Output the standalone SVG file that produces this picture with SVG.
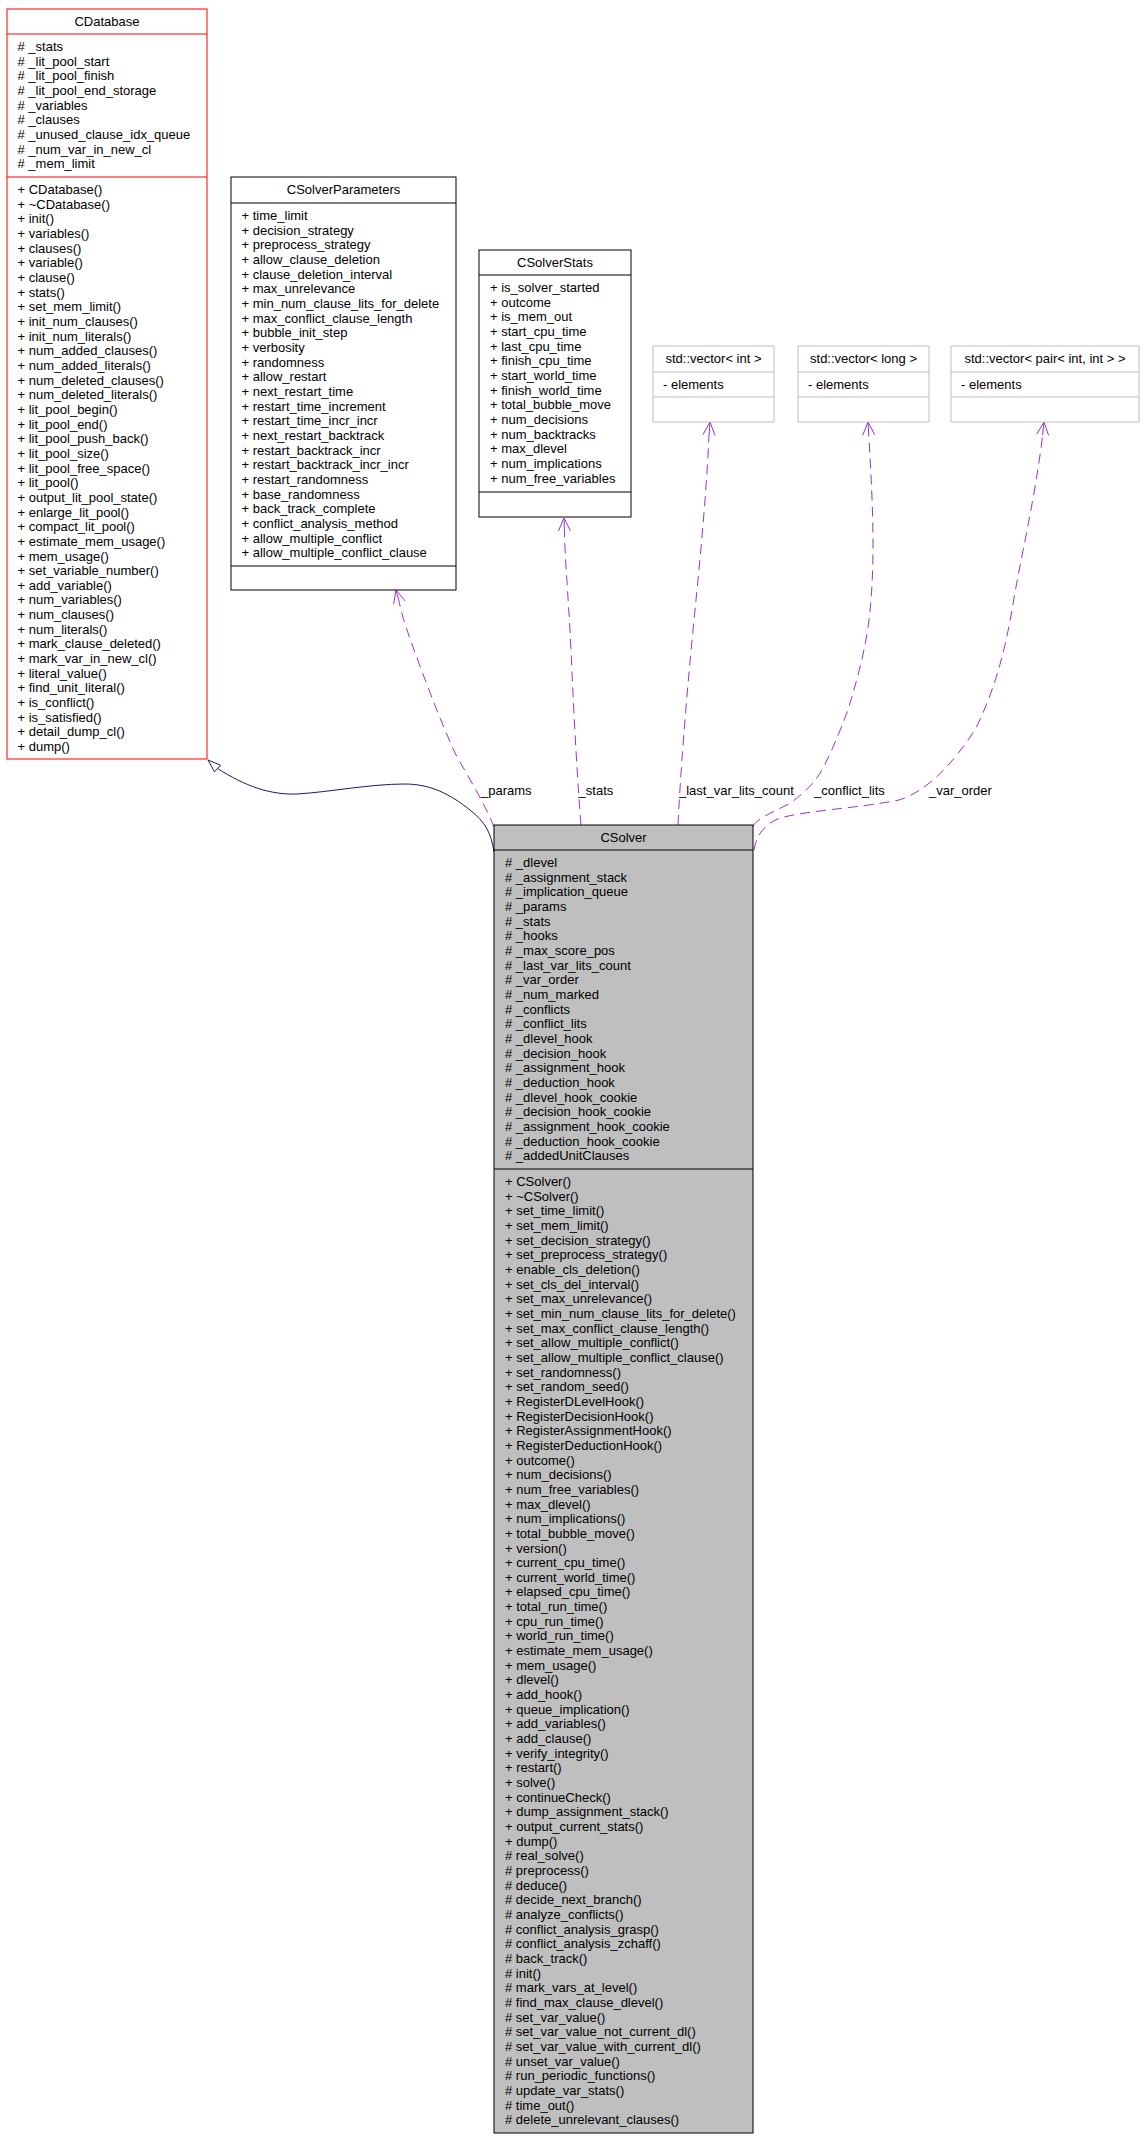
<svg xmlns="http://www.w3.org/2000/svg" width="1145" height="2140" viewBox="0 0 1145 2140">
<style>
text{font-family:"Liberation Sans",Arial,sans-serif;font-size:13px;fill:#000}
.t{text-anchor:middle}
.box{fill:#fff;stroke:#000;stroke-width:1}
.red{fill:#fff;stroke:#ff0000;stroke-width:1}
.grey{fill:#fff;stroke:#bfbfbf;stroke-width:1}
.main{fill:#bfbfbf;stroke:#000;stroke-width:1}
.sep{stroke:#000;stroke-width:1}
.sepr{stroke:#ff0000;stroke-width:1}
.sepg{stroke:#bfbfbf;stroke-width:1}
.use{fill:none;stroke:#9a32cd;stroke-width:1;stroke-dasharray:10,6}
.head{fill:none;stroke:#9a32cd;stroke-width:1}
.inh{fill:none;stroke:#191970;stroke-width:1}
</style>
<rect width="1145" height="2140" fill="#fff"/>

<g id="connectors">
  <path class="inh" d="M494,852 C491,832 485,822 470,810 C450,794 430,784 405,784 C370,784 330,792 297,794 C270,795 245,786 217.5,768.5"/>
  <polygon points="208,760 220.5,765.2 214.5,771.8" fill="#fff" stroke="#191970" stroke-width="1"/>

  <path class="use" d="M494,827 C486,806 470,780 455,753 C440,720 425,680 413,647 C406,628 401,612 399.4,602.6"/>
  <path class="head" d="M405.2,601.1 L396,590 L393.6,604.1 M396,590 L399.4,602.6"/>
  <text x="481" y="795">_params</text>

  <path class="use" d="M581,825 C578,790 574,720 571,650 C568,590 565,560 564.4,531"/>
  <path class="head" d="M570.4,530.8 L564,518 L558.4,531.2 M564,518 L564.4,531"/>
  <text x="578.6" y="795">_stats</text>

  <path class="use" d="M678,825 C680,780 686,700 694,620 C700,560 706,500 709,435"/>
  <path class="head" d="M715,435.4 L710,422 L703,434.6 M710,422 L709,435"/>
  <text x="679" y="795">_last_var_lits_count</text>

  <path class="use" d="M753,826 C760,816 775,812 790,803 C805,793 815,782 822,770 C835,745 842,725 848,710 C860,670 868,640 871,600 C874,560 874,520 868.7,435"/>
  <path class="head" d="M874.7,434.7 L868,422 L862.7,435.3 M868,422 L868.7,435"/>
  <text x="814" y="795">_conflict_lits</text>

  <path class="use" d="M754,850 C756,838 762,825 780,818 C810,810 860,808 899,800 C930,790 955,760 975,730 C995,690 1005,650 1012,610 C1020,560 1035,500 1042.6,435"/>
  <path class="head" d="M1048.6,435.5 L1044,422 L1036.6,434.2 M1044,422 L1042.6,435"/>
  <text x="929" y="795">_var_order</text>
</g>

<g id="CDatabase">
  <rect class="red" x="7" y="9" width="200" height="750"/>
  <line class="sepr" x1="7" y1="34" x2="207" y2="34"/>
  <line class="sepr" x1="7" y1="177" x2="207" y2="177"/>
  <text class="t" x="107" y="26">CDatabase</text>
  <text x="17.5" y="51">
    <tspan x="17.5" dy="0"># _stats</tspan>
    <tspan x="17.5" dy="14.66"># _lit_pool_start</tspan>
    <tspan x="17.5" dy="14.66"># _lit_pool_finish</tspan>
    <tspan x="17.5" dy="14.66"># _lit_pool_end_storage</tspan>
    <tspan x="17.5" dy="14.66"># _variables</tspan>
    <tspan x="17.5" dy="14.66"># _clauses</tspan>
    <tspan x="17.5" dy="14.66"># _unused_clause_idx_queue</tspan>
    <tspan x="17.5" dy="14.66"># _num_var_in_new_cl</tspan>
    <tspan x="17.5" dy="14.66"># _mem_limit</tspan>
  </text>
  <text x="17.5" y="194">
    <tspan x="17.5" dy="0">+ CDatabase()</tspan>
    <tspan x="17.5" dy="14.66">+ ~CDatabase()</tspan>
    <tspan x="17.5" dy="14.66">+ init()</tspan>
    <tspan x="17.5" dy="14.66">+ variables()</tspan>
    <tspan x="17.5" dy="14.66">+ clauses()</tspan>
    <tspan x="17.5" dy="14.66">+ variable()</tspan>
    <tspan x="17.5" dy="14.66">+ clause()</tspan>
    <tspan x="17.5" dy="14.66">+ stats()</tspan>
    <tspan x="17.5" dy="14.66">+ set_mem_limit()</tspan>
    <tspan x="17.5" dy="14.66">+ init_num_clauses()</tspan>
    <tspan x="17.5" dy="14.66">+ init_num_literals()</tspan>
    <tspan x="17.5" dy="14.66">+ num_added_clauses()</tspan>
    <tspan x="17.5" dy="14.66">+ num_added_literals()</tspan>
    <tspan x="17.5" dy="14.66">+ num_deleted_clauses()</tspan>
    <tspan x="17.5" dy="14.66">+ num_deleted_literals()</tspan>
    <tspan x="17.5" dy="14.66">+ lit_pool_begin()</tspan>
    <tspan x="17.5" dy="14.66">+ lit_pool_end()</tspan>
    <tspan x="17.5" dy="14.66">+ lit_pool_push_back()</tspan>
    <tspan x="17.5" dy="14.66">+ lit_pool_size()</tspan>
    <tspan x="17.5" dy="14.66">+ lit_pool_free_space()</tspan>
    <tspan x="17.5" dy="14.66">+ lit_pool()</tspan>
    <tspan x="17.5" dy="14.66">+ output_lit_pool_state()</tspan>
    <tspan x="17.5" dy="14.66">+ enlarge_lit_pool()</tspan>
    <tspan x="17.5" dy="14.66">+ compact_lit_pool()</tspan>
    <tspan x="17.5" dy="14.66">+ estimate_mem_usage()</tspan>
    <tspan x="17.5" dy="14.66">+ mem_usage()</tspan>
    <tspan x="17.5" dy="14.66">+ set_variable_number()</tspan>
    <tspan x="17.5" dy="14.66">+ add_variable()</tspan>
    <tspan x="17.5" dy="14.66">+ num_variables()</tspan>
    <tspan x="17.5" dy="14.66">+ num_clauses()</tspan>
    <tspan x="17.5" dy="14.66">+ num_literals()</tspan>
    <tspan x="17.5" dy="14.66">+ mark_clause_deleted()</tspan>
    <tspan x="17.5" dy="14.66">+ mark_var_in_new_cl()</tspan>
    <tspan x="17.5" dy="14.66">+ literal_value()</tspan>
    <tspan x="17.5" dy="14.66">+ find_unit_literal()</tspan>
    <tspan x="17.5" dy="14.66">+ is_conflict()</tspan>
    <tspan x="17.5" dy="14.66">+ is_satisfied()</tspan>
    <tspan x="17.5" dy="14.66">+ detail_dump_cl()</tspan>
    <tspan x="17.5" dy="14.66">+ dump()</tspan>
  </text>
</g>

<g id="CSolverParameters">
  <rect class="box" x="231" y="177" width="225" height="413"/>
  <line class="sep" x1="231" y1="203" x2="456" y2="203"/>
  <line class="sep" x1="231" y1="566" x2="456" y2="566"/>
  <text class="t" x="343.5" y="194">CSolverParameters</text>
  <text x="241.5" y="220">
    <tspan x="241.5" dy="0">+ time_limit</tspan>
    <tspan x="241.5" dy="14.66">+ decision_strategy</tspan>
    <tspan x="241.5" dy="14.66">+ preprocess_strategy</tspan>
    <tspan x="241.5" dy="14.66">+ allow_clause_deletion</tspan>
    <tspan x="241.5" dy="14.66">+ clause_deletion_interval</tspan>
    <tspan x="241.5" dy="14.66">+ max_unrelevance</tspan>
    <tspan x="241.5" dy="14.66">+ min_num_clause_lits_for_delete</tspan>
    <tspan x="241.5" dy="14.66">+ max_conflict_clause_length</tspan>
    <tspan x="241.5" dy="14.66">+ bubble_init_step</tspan>
    <tspan x="241.5" dy="14.66">+ verbosity</tspan>
    <tspan x="241.5" dy="14.66">+ randomness</tspan>
    <tspan x="241.5" dy="14.66">+ allow_restart</tspan>
    <tspan x="241.5" dy="14.66">+ next_restart_time</tspan>
    <tspan x="241.5" dy="14.66">+ restart_time_increment</tspan>
    <tspan x="241.5" dy="14.66">+ restart_time_incr_incr</tspan>
    <tspan x="241.5" dy="14.66">+ next_restart_backtrack</tspan>
    <tspan x="241.5" dy="14.66">+ restart_backtrack_incr</tspan>
    <tspan x="241.5" dy="14.66">+ restart_backtrack_incr_incr</tspan>
    <tspan x="241.5" dy="14.66">+ restart_randomness</tspan>
    <tspan x="241.5" dy="14.66">+ base_randomness</tspan>
    <tspan x="241.5" dy="14.66">+ back_track_complete</tspan>
    <tspan x="241.5" dy="14.66">+ conflict_analysis_method</tspan>
    <tspan x="241.5" dy="14.66">+ allow_multiple_conflict</tspan>
    <tspan x="241.5" dy="14.66">+ allow_multiple_conflict_clause</tspan>
  </text>
</g>

<g id="CSolverStats">
  <rect class="box" x="479" y="250" width="152" height="267"/>
  <line class="sep" x1="479" y1="275" x2="631" y2="275"/>
  <line class="sep" x1="479" y1="492" x2="631" y2="492"/>
  <text class="t" x="555" y="267">CSolverStats</text>
  <text x="490" y="292">
    <tspan x="490" dy="0">+ is_solver_started</tspan>
    <tspan x="490" dy="14.66">+ outcome</tspan>
    <tspan x="490" dy="14.66">+ is_mem_out</tspan>
    <tspan x="490" dy="14.66">+ start_cpu_time</tspan>
    <tspan x="490" dy="14.66">+ last_cpu_time</tspan>
    <tspan x="490" dy="14.66">+ finish_cpu_time</tspan>
    <tspan x="490" dy="14.66">+ start_world_time</tspan>
    <tspan x="490" dy="14.66">+ finish_world_time</tspan>
    <tspan x="490" dy="14.66">+ total_bubble_move</tspan>
    <tspan x="490" dy="14.66">+ num_decisions</tspan>
    <tspan x="490" dy="14.66">+ num_backtracks</tspan>
    <tspan x="490" dy="14.66">+ max_dlevel</tspan>
    <tspan x="490" dy="14.66">+ num_implications</tspan>
    <tspan x="490" dy="14.66">+ num_free_variables</tspan>
  </text>
</g>

<g id="vector_int">
  <rect class="grey" x="653" y="346" width="121" height="76"/>
  <line class="sepg" x1="653" y1="372" x2="774" y2="372"/>
  <line class="sepg" x1="653" y1="397" x2="774" y2="397"/>
  <text class="t" x="713.5" y="363">std::vector&lt; int &gt;</text>
  <text x="663" y="389">- elements</text>
</g>

<g id="vector_long">
  <rect class="grey" x="798" y="346" width="131" height="76"/>
  <line class="sepg" x1="798" y1="372" x2="929" y2="372"/>
  <line class="sepg" x1="798" y1="397" x2="929" y2="397"/>
  <text class="t" x="863.5" y="363">std::vector&lt; long &gt;</text>
  <text x="808" y="389">- elements</text>
</g>

<g id="vector_pair">
  <rect class="grey" x="951" y="346" width="188" height="76"/>
  <line class="sepg" x1="951" y1="372" x2="1139" y2="372"/>
  <line class="sepg" x1="951" y1="397" x2="1139" y2="397"/>
  <text class="t" x="1045" y="363">std::vector&lt; pair&lt; int, int &gt; &gt;</text>
  <text x="961" y="389">- elements</text>
</g>

<g id="CSolver">
  <rect class="main" x="494" y="825" width="259" height="1308"/>
  <line class="sep" x1="494" y1="850" x2="753" y2="850"/>
  <line class="sep" x1="494" y1="1169" x2="753" y2="1169"/>
  <text class="t" x="623.5" y="842">CSolver</text>
  <text x="505" y="867">
    <tspan x="505" dy="0"># _dlevel</tspan>
    <tspan x="505" dy="14.66"># _assignment_stack</tspan>
    <tspan x="505" dy="14.66"># _implication_queue</tspan>
    <tspan x="505" dy="14.66"># _params</tspan>
    <tspan x="505" dy="14.66"># _stats</tspan>
    <tspan x="505" dy="14.66"># _hooks</tspan>
    <tspan x="505" dy="14.66"># _max_score_pos</tspan>
    <tspan x="505" dy="14.66"># _last_var_lits_count</tspan>
    <tspan x="505" dy="14.66"># _var_order</tspan>
    <tspan x="505" dy="14.66"># _num_marked</tspan>
    <tspan x="505" dy="14.66"># _conflicts</tspan>
    <tspan x="505" dy="14.66"># _conflict_lits</tspan>
    <tspan x="505" dy="14.66"># _dlevel_hook</tspan>
    <tspan x="505" dy="14.66"># _decision_hook</tspan>
    <tspan x="505" dy="14.66"># _assignment_hook</tspan>
    <tspan x="505" dy="14.66"># _deduction_hook</tspan>
    <tspan x="505" dy="14.66"># _dlevel_hook_cookie</tspan>
    <tspan x="505" dy="14.66"># _decision_hook_cookie</tspan>
    <tspan x="505" dy="14.66"># _assignment_hook_cookie</tspan>
    <tspan x="505" dy="14.66"># _deduction_hook_cookie</tspan>
    <tspan x="505" dy="14.66"># _addedUnitClauses</tspan>
  </text>
  <text x="505" y="1186">
    <tspan x="505" dy="0">+ CSolver()</tspan>
    <tspan x="505" dy="14.66">+ ~CSolver()</tspan>
    <tspan x="505" dy="14.66">+ set_time_limit()</tspan>
    <tspan x="505" dy="14.66">+ set_mem_limit()</tspan>
    <tspan x="505" dy="14.66">+ set_decision_strategy()</tspan>
    <tspan x="505" dy="14.66">+ set_preprocess_strategy()</tspan>
    <tspan x="505" dy="14.66">+ enable_cls_deletion()</tspan>
    <tspan x="505" dy="14.66">+ set_cls_del_interval()</tspan>
    <tspan x="505" dy="14.66">+ set_max_unrelevance()</tspan>
    <tspan x="505" dy="14.66">+ set_min_num_clause_lits_for_delete()</tspan>
    <tspan x="505" dy="14.66">+ set_max_conflict_clause_length()</tspan>
    <tspan x="505" dy="14.66">+ set_allow_multiple_conflict()</tspan>
    <tspan x="505" dy="14.66">+ set_allow_multiple_conflict_clause()</tspan>
    <tspan x="505" dy="14.66">+ set_randomness()</tspan>
    <tspan x="505" dy="14.66">+ set_random_seed()</tspan>
    <tspan x="505" dy="14.66">+ RegisterDLevelHook()</tspan>
    <tspan x="505" dy="14.66">+ RegisterDecisionHook()</tspan>
    <tspan x="505" dy="14.66">+ RegisterAssignmentHook()</tspan>
    <tspan x="505" dy="14.66">+ RegisterDeductionHook()</tspan>
    <tspan x="505" dy="14.66">+ outcome()</tspan>
    <tspan x="505" dy="14.66">+ num_decisions()</tspan>
    <tspan x="505" dy="14.66">+ num_free_variables()</tspan>
    <tspan x="505" dy="14.66">+ max_dlevel()</tspan>
    <tspan x="505" dy="14.66">+ num_implications()</tspan>
    <tspan x="505" dy="14.66">+ total_bubble_move()</tspan>
    <tspan x="505" dy="14.66">+ version()</tspan>
    <tspan x="505" dy="14.66">+ current_cpu_time()</tspan>
    <tspan x="505" dy="14.66">+ current_world_time()</tspan>
    <tspan x="505" dy="14.66">+ elapsed_cpu_time()</tspan>
    <tspan x="505" dy="14.66">+ total_run_time()</tspan>
    <tspan x="505" dy="14.66">+ cpu_run_time()</tspan>
    <tspan x="505" dy="14.66">+ world_run_time()</tspan>
    <tspan x="505" dy="14.66">+ estimate_mem_usage()</tspan>
    <tspan x="505" dy="14.66">+ mem_usage()</tspan>
    <tspan x="505" dy="14.66">+ dlevel()</tspan>
    <tspan x="505" dy="14.66">+ add_hook()</tspan>
    <tspan x="505" dy="14.66">+ queue_implication()</tspan>
    <tspan x="505" dy="14.66">+ add_variables()</tspan>
    <tspan x="505" dy="14.66">+ add_clause()</tspan>
    <tspan x="505" dy="14.66">+ verify_integrity()</tspan>
    <tspan x="505" dy="14.66">+ restart()</tspan>
    <tspan x="505" dy="14.66">+ solve()</tspan>
    <tspan x="505" dy="14.66">+ continueCheck()</tspan>
    <tspan x="505" dy="14.66">+ dump_assignment_stack()</tspan>
    <tspan x="505" dy="14.66">+ output_current_stats()</tspan>
    <tspan x="505" dy="14.66">+ dump()</tspan>
    <tspan x="505" dy="14.66"># real_solve()</tspan>
    <tspan x="505" dy="14.66"># preprocess()</tspan>
    <tspan x="505" dy="14.66"># deduce()</tspan>
    <tspan x="505" dy="14.66"># decide_next_branch()</tspan>
    <tspan x="505" dy="14.66"># analyze_conflicts()</tspan>
    <tspan x="505" dy="14.66"># conflict_analysis_grasp()</tspan>
    <tspan x="505" dy="14.66"># conflict_analysis_zchaff()</tspan>
    <tspan x="505" dy="14.66"># back_track()</tspan>
    <tspan x="505" dy="14.66"># init()</tspan>
    <tspan x="505" dy="14.66"># mark_vars_at_level()</tspan>
    <tspan x="505" dy="14.66"># find_max_clause_dlevel()</tspan>
    <tspan x="505" dy="14.66"># set_var_value()</tspan>
    <tspan x="505" dy="14.66"># set_var_value_not_current_dl()</tspan>
    <tspan x="505" dy="14.66"># set_var_value_with_current_dl()</tspan>
    <tspan x="505" dy="14.66"># unset_var_value()</tspan>
    <tspan x="505" dy="14.66"># run_periodic_functions()</tspan>
    <tspan x="505" dy="14.66"># update_var_stats()</tspan>
    <tspan x="505" dy="14.66"># time_out()</tspan>
    <tspan x="505" dy="14.66"># delete_unrelevant_clauses()</tspan>
  </text>
</g>
</svg>
